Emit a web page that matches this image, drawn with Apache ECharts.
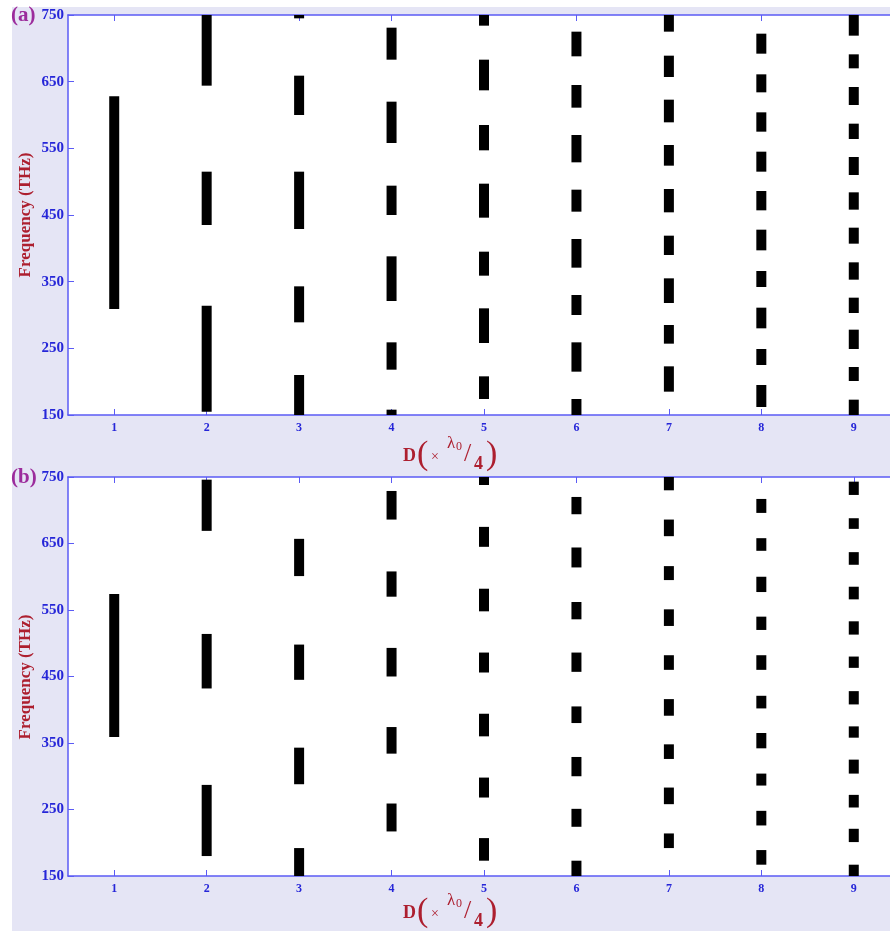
<!DOCTYPE html>
<html>
<head>
<meta charset="utf-8">
<script src="https://cdn.jsdelivr.net/npm/echarts@6/dist/echarts.min.js"></script>
<style>
html,body{margin:0;padding:0;background:#ffffff;}
#chart{width:890px;height:931px;}
</style>
</head>
<body>
<div id="chart"></div>
<script>
// D values (x categories, in units of lambda0/4)
const dValues = [1, 2, 3, 4, 5, 6, 7, 8, 9];
const xTicks = [1, 2, 3, 4, 5, 6, 7, 8, 9];
const yTicks = [150, 250, 350, 450, 550, 650, 750];
const panelLabels = ['(a)', '(b)'];
const yAxisTitle = 'Frequency (THz)';

// Panel (a): band-gap ranges [low, high] in THz for each D
const gapsA = [
  [[309, 628]],
  [[155, 314], [435, 515], [644, 750]],
  [[150, 210], [289, 343], [429, 515], [600, 659], [745, 750]],
  [[150, 158], [218, 259], [321, 388], [450, 494], [558, 620], [683, 731]],
  [[174, 208], [258, 310], [359, 395], [446, 497], [547, 585], [637, 683], [734, 750]],
  [[150, 174], [215, 259], [300, 330], [371, 414], [455, 488], [529, 570], [611, 645], [688, 725]],
  [[185, 223], [257, 285], [318, 355], [390, 419], [454, 489], [524, 555], [589, 623], [657, 689], [725, 750]],
  [[162, 195], [225, 249], [280, 311], [342, 366], [397, 428], [457, 486], [515, 545], [575, 604], [634, 661], [692, 722]],
  [[150, 173], [201, 222], [249, 278], [303, 326], [353, 379], [407, 431], [458, 484], [510, 537], [564, 587], [615, 642], [670, 691], [719, 750]]
];

// Panel (b): band-gap ranges [low, high] in THz for each D
const gapsB = [
  [[359, 574]],
  [[180, 287], [432, 514], [669, 746]],
  [[150, 192], [288, 343], [445, 498], [601, 657]],
  [[217, 259], [334, 374], [450, 493], [570, 608], [686, 729]],
  [[173, 207], [268, 298], [360, 394], [456, 486], [548, 582], [645, 675], [738, 750]],
  [[150, 173], [224, 251], [300, 329], [380, 405], [457, 486], [536, 562], [614, 644], [694, 720]],
  [[192, 214], [258, 283], [326, 348], [391, 416], [460, 482], [526, 551], [595, 616], [661, 686], [730, 750]],
  [[167, 189], [226, 248], [286, 304], [342, 365], [402, 421], [460, 482], [520, 540], [577, 600], [639, 658], [696, 717]],
  [[150, 167], [201, 221], [253, 272], [304, 325], [358, 375], [408, 428], [463, 480], [513, 533], [566, 585], [618, 637], [672, 688], [723, 743]]
];

function toData(gaps) {
  const out = [];
  gaps.forEach((list, i) => {
    list.forEach(g => out.push([dValues[i], g[0], g[1]]));
  });
  return out;
}

const AXIS_BLUE = '#5b5bf5';
const LABEL_BLUE = '#2626d8';
const TITLE_RED = '#ad1f2f';
const PANEL_PURPLE = '#9c2c9c';
const SERIF = '"Liberation Serif", "DejaVu Serif", serif';

function renderItem(params, api) {
  const x = api.value(0), lo = api.value(1), hi = api.value(2);
  const pTop = api.coord([x, hi]);
  const pBot = api.coord([x, lo]);
  const w = 10;
  return {
    type: 'rect',
    shape: { x: pTop[0] - w / 2, y: pTop[1], width: w, height: pBot[1] - pTop[1] },
    style: { fill: '#000000' }
  };
}

const grids = [
  { left: 68, top: 15, right: -10, height: 400, outerBoundsMode: 'none', containLabel: false },
  { left: 68, top: 477, right: -10, height: 399, outerBoundsMode: 'none', containLabel: false }
];

function xAxes(gi) {
  const base = {
    type: 'value', gridIndex: gi, min: 0.5, max: 9.5,
    axisLine: { show: true, lineStyle: { color: AXIS_BLUE, width: 1.5 } },
    axisTick: { show: true, inside: true, length: 6, customValues: xTicks, lineStyle: { color: AXIS_BLUE, width: 1 } },
    splitLine: { show: false }
  };
  return [
    Object.assign({}, base, {
      position: 'bottom',
      axisLabel: { show: true, customValues: xTicks, margin: 7, color: LABEL_BLUE, fontWeight: 'bold', fontSize: 12, fontFamily: SERIF }
    }),
    Object.assign({}, base, { position: 'top', axisLabel: { show: false } })
  ];
}

function yAxes(gi) {
  const base = {
    type: 'value', gridIndex: gi, min: 150, max: 750,
    axisLine: { show: true, lineStyle: { color: AXIS_BLUE, width: 1.5 } },
    axisTick: { show: true, inside: true, length: 6, customValues: yTicks, lineStyle: { color: AXIS_BLUE, width: 1 } },
    splitLine: { show: false }
  };
  return [
    Object.assign({}, base, {
      position: 'left',
      axisLabel: { show: true, customValues: yTicks, margin: 4, color: LABEL_BLUE, fontWeight: 'bold', fontSize: 15, fontFamily: SERIF }
    }),
    Object.assign({}, base, { position: 'right', axisLabel: { show: false } })
  ];
}

function xTitle(cy) {
  const red = TITLE_RED;
  const mk = (x, dy, text, size, weight) => ({
    type: 'text', x: x, y: cy + dy,
    style: { text: text, fill: red, fontSize: size, fontWeight: weight || 'normal', fontFamily: SERIF, verticalAlign: 'middle', align: 'left' }
  });
  return [
    mk(403, 1, 'D', 18, 'bold'),
    mk(417, 0, '(', 34, 'normal'),
    mk(431, 2, '\u00d7', 14, 'normal'),
    mk(447, -11, '\u03bb', 17, 'normal'),
    mk(456, -8, '0', 12, 'normal'),
    mk(464, -1, '/', 26, 'normal'),
    mk(474, 9, '4', 18, 'bold'),
    mk(486, 0, ')', 34, 'normal')
  ];
}

function panelTexts(gi, top, cyTitle) {
  return [
    { type: 'text', x: 11, y: top + 1, style: { text: panelLabels[gi], fill: PANEL_PURPLE, fontSize: 21, fontWeight: 'bold', fontFamily: SERIF, verticalAlign: 'middle', align: 'left' } },
    { type: 'text', x: 26, y: top + 200, rotation: Math.PI / 2,
      style: { text: yAxisTitle, fill: TITLE_RED, fontSize: 17, fontWeight: 'bold', fontFamily: SERIF, verticalAlign: 'middle', align: 'center' } }
  ].concat(xTitle(cyTitle));
}

const chart = echarts.init(document.getElementById('chart'), null, { renderer: 'canvas' });
const option = {
  backgroundColor: '#ffffff',
  animation: false,
  graphic: [
    { type: 'rect', z: -10, shape: { x: 12, y: 7, width: 878, height: 924 }, style: { fill: '#e5e5f5' } },
    { type: 'rect', z: -9, shape: { x: 68, y: 15, width: 832, height: 400 }, style: { fill: '#ffffff' } },
    { type: 'rect', z: -9, shape: { x: 68, y: 477, width: 832, height: 399 }, style: { fill: '#ffffff' } }
  ].concat(panelTexts(0, 15, 455)).concat(panelTexts(1, 477, 912)),
  grid: grids,
  xAxis: xAxes(0).concat(xAxes(1)),
  yAxis: yAxes(0).concat(yAxes(1)),
  series: [
    { type: 'custom', xAxisIndex: 0, yAxisIndex: 0, renderItem: renderItem, data: toData(gapsA), clip: true, encode: { x: 0, y: [1, 2] } },
    { type: 'custom', xAxisIndex: 2, yAxisIndex: 2, renderItem: renderItem, data: toData(gapsB), clip: true, encode: { x: 0, y: [1, 2] } }
  ]
};
chart.setOption(option);
</script>
</body>
</html>
